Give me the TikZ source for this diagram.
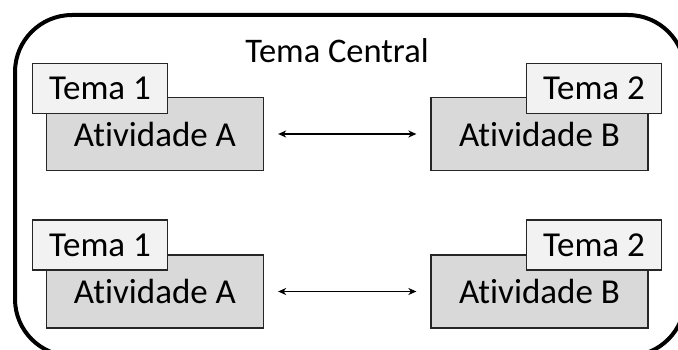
\documentclass[tikz,border=0pt]{standalone}
\usepackage{fontspec}
\setmainfont{Carlito}[Ligatures=NoCommon]
\usetikzlibrary{arrows.meta}
\definecolor{temafill}{HTML}{F2F2F2}
\definecolor{ativfill}{HTML}{D9D9D9}
\tikzset{
  boxfont/.style={font=\fontsize{35}{40}\selectfont},
  ativbox/.style={draw=black!85, line width=1.3pt, fill=ativfill, rectangle,
    minimum width=217pt, minimum height=73pt, inner sep=0pt, boxfont},
  temabox/.style={draw=black!85, line width=1.3pt, fill=temafill, rectangle,
    minimum width=135pt, minimum height=50pt, inner sep=0pt, boxfont},
  link/.style={line width=1.4pt,
    {Stealth[length=8pt,width=7pt,inset=2.5pt]}-{Stealth[length=8pt,width=7pt,inset=2.5pt]},
    shorten <=14pt, shorten >=14pt},
}
\begin{document}
\begin{tikzpicture}[x=1pt,y=-1pt]
  \useasboundingbox (0,0) rectangle (678,350);
  \clip (0,0) rectangle (678,350);
  % outer frame of the central theme
  \draw[line width=4pt, rounded corners=57pt] (15,15) rectangle (685,356);
  \node[anchor=base, font=\fontsize{34.5}{40}\selectfont] (central) at (337,63) {Tema Central};
  % upper pair
  \node[ativbox] (a1) at (155,134) {Atividade A};
  \node[temabox] (t1) at (100,88.5) {Tema 1};
  \node[ativbox] (b1) at (539.5,134) {Atividade B};
  \node[temabox] (t2) at (594,88.5) {Tema 2};
  \draw[link] (a1.east) -- (b1.west);
  % lower pair
  \node[ativbox] (a2) at (155,291.5) {Atividade A};
  \node[temabox] (t3) at (100,245) {Tema 1};
  \node[ativbox] (b2) at (539.5,291.5) {Atividade B};
  \node[temabox] (t4) at (594,245) {Tema 2};
  \draw[link] (a2.east) -- (b2.west);
\end{tikzpicture}
\end{document}
